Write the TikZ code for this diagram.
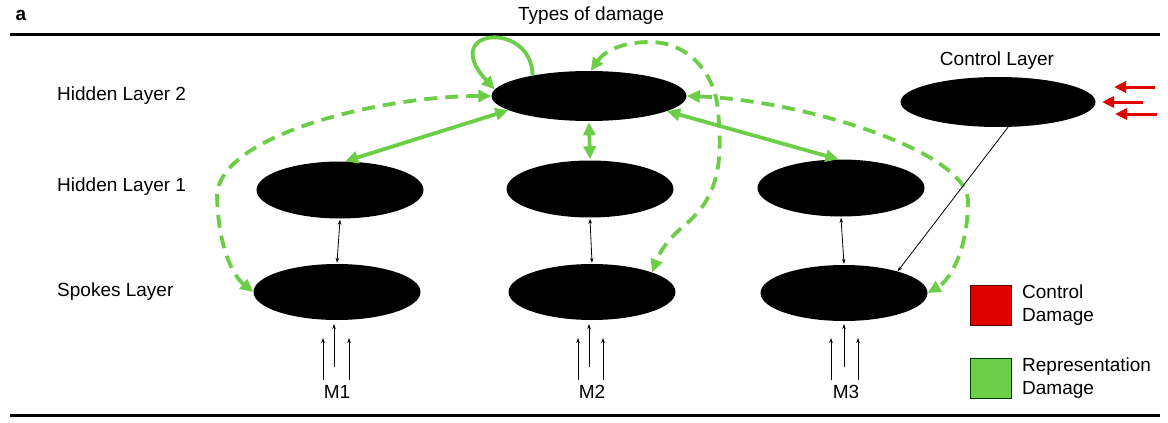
\documentclass[tikz,border=0pt]{standalone}
\usepackage{fontspec}
\setmainfont{Liberation Sans}
\usetikzlibrary{shapes.geometric,arrows.meta}
\definecolor{repgreen}{RGB}{108,206,70}
\definecolor{ctlred}{RGB}{224,0,0}
\tikzset{
  blob/.style={ellipse,fill=black,draw=none,inner sep=0pt},
  lbl/.style={font=\fontsize{19}{23}\selectfont,inner sep=0pt},
  greenarrow/.style={draw=repgreen,line width=3.8pt,{Triangle[length=13pt,width=12pt]}-{Triangle[length=13pt,width=12pt]}},
  greenloop/.style={draw=repgreen,line width=3.8pt,-{Triangle[length=13pt,width=12pt]}},
  greendash/.style={draw=repgreen,line width=3.8pt,dash pattern=on 13pt off 8pt,{Triangle[length=13pt,width=12pt]}-{Triangle[length=13pt,width=12pt]}},
  thinarrow/.style={draw=black,line width=0.8pt,-{Stealth[length=5pt,width=3.5pt]}},
  thindouble/.style={draw=black,line width=0.8pt,{Stealth[length=5pt,width=3.5pt]}-{Stealth[length=5pt,width=3.5pt]}},
  redarrow/.style={draw=ctlred,line width=3pt,-{Triangle[length=12pt,width=11pt]}},
  legendbox/.style={draw=black!70!red,line width=1pt,minimum width=41pt,minimum height=40pt,inner sep=0pt}
}
\begin{document}
\begin{tikzpicture}[x=1pt,y=-1pt]
\useasboundingbox (0,0) rectangle (1168,423);
% rules
\draw[line width=3pt] (10,34) -- (1160,34);
\draw[line width=3pt] (10,415) -- (1160,415);
% texts
\node[lbl,font=\fontsize{19}{23}\selectfont\bfseries] (tA) at (21,15) {a};
\node[lbl] (tTypes) at (591,16) {Types of damage};
\node[lbl,anchor=west] (tH2) at (57,96) {Hidden Layer 2};
\node[lbl,anchor=west] (tH1) at (57,187) {Hidden Layer 1};
\node[lbl,anchor=west] (tSp) at (57,292) {Spokes Layer};
\node[lbl] (tCtl) at (997,61) {Control Layer};
% ellipses
\node[blob,minimum width=195pt,minimum height=50pt] (h2) at (589,96) {};
\node[blob,minimum width=195pt,minimum height=50pt] (ctl) at (998,102) {};
\node[blob,minimum width=167pt,minimum height=57pt] (h1a) at (340,190) {};
\node[blob,minimum width=167pt,minimum height=57pt] (h1b) at (590,189) {};
\node[blob,minimum width=167pt,minimum height=57pt] (h1c) at (841,188) {};
\node[blob,minimum width=167pt,minimum height=56pt] (sa) at (337,292) {};
\node[blob,minimum width=167pt,minimum height=56pt] (sb) at (592,292) {};
\node[blob,minimum width=167pt,minimum height=56pt] (sc) at (844,293) {};
% thin vertical links
\draw[thindouble] ([yshift=-1pt]h1a.south) -- ([yshift=1pt]sa.north);
\draw[thindouble] ([yshift=-1pt]h1b.south) -- ([yshift=1pt]sb.north);
\draw[thindouble] ([yshift=-1pt]h1c.south) -- ([yshift=1pt]sc.north);
% green solid
\draw[greenarrow] (h2.190) -- (h1a.80);
\draw[greenarrow] ([yshift=-1pt]h2.south) -- ([yshift=1pt]h1b.north);
\draw[greenarrow] (h2.349) -- (h1c.95);
\draw[greenloop] (h2.160) .. controls (532,20) and (438,28) .. (h2.176);
% green dashed
\draw[greendash] (h2.86) to[out=55,in=180] (650,42) to[out=0,in=95] (718,110)
  to[out=-85,in=40] (686,224) to[out=220,in=70] (sb.18);
\draw[greendash] (h2.west) .. controls (380,96) and (220,135) .. (217,195)
  .. controls (218,245) and (232,275) .. (sa.west);
\draw[greendash] (h2.east) .. controls (800,100) and (965,150) .. (968,200)
  .. controls (968,250) and (950,280) .. (sc.east);
% control link
\draw[thinarrow] (ctl.-68) -- (sc.22);
% red arrows
\draw[redarrow] (1155,87) -- (1114,87);
\draw[redarrow] (1143,102) -- (1102,102);
\draw[redarrow] (1157,114) -- (1115,114);
% inputs
\node[lbl] (m1) at (337,392) {M1};
\node[lbl] (m2) at (592,392) {M2};
\node[lbl] (m3) at (846,392) {M3};
\foreach \x in {323,349}{\draw[thinarrow] (\x,380) -- (\x,338);}
\draw[thinarrow] (334,367) -- (334,324);
\foreach \x in {578,603}{\draw[thinarrow] (\x,380) -- (\x,338);}
\draw[thinarrow] (589,367) -- (589,324);
\foreach \x in {831,858}{\draw[thinarrow] (\x,380) -- (\x,338);}
\draw[thinarrow] (844,367) -- (844,324);
% legend
\node[legendbox,fill=ctlred] (lr) at (990.5,305) {};
\node[legendbox,fill=repgreen,draw=black!75!green] (lg) at (990.5,378) {};
\node[lbl,anchor=west,align=left] (lrt) at (1022,305) {Control\\Damage};
\node[lbl,anchor=west,align=left] (lgt) at (1022,378) {Representation\\Damage};
\end{tikzpicture}
\end{document}
